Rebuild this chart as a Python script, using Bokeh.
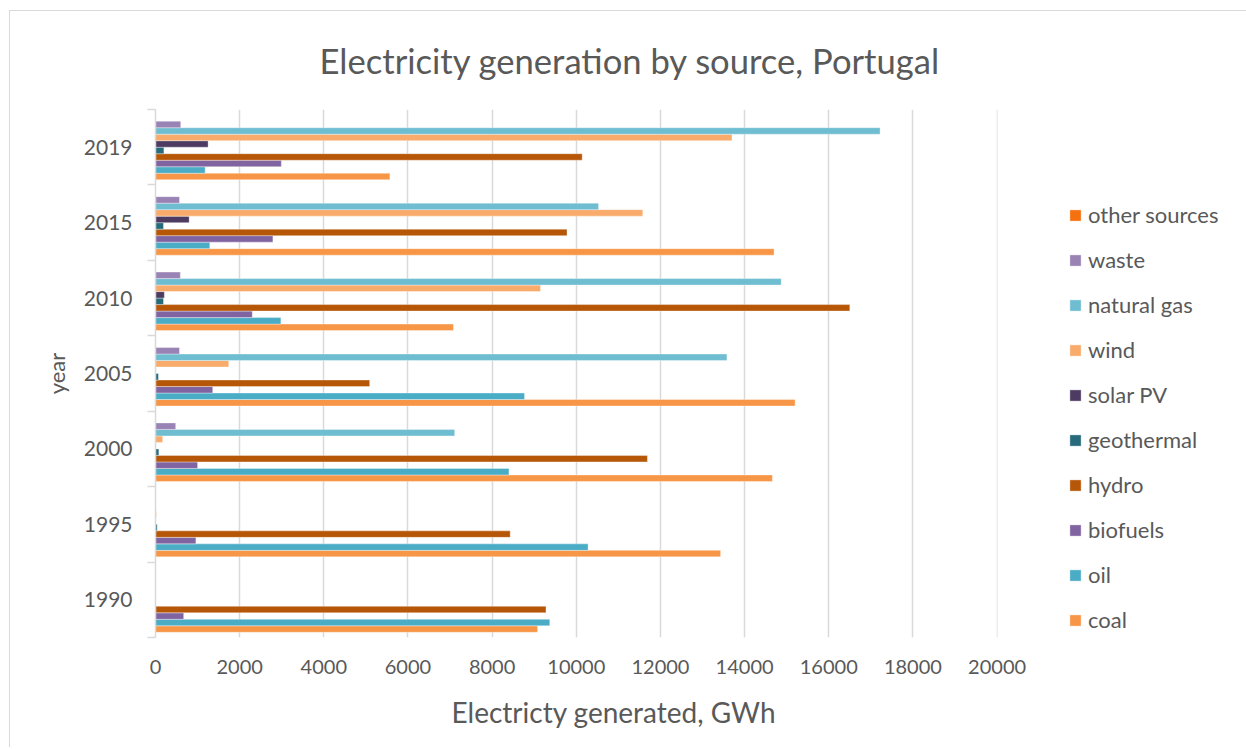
from bokeh.plotting import figure
from bokeh.models import (ColumnDataSource, Range1d, FixedTicker, Legend, LegendItem, Title)
from bokeh.transform import dodge
from bokeh.embed import file_html
from bokeh.resources import INLINE

# Electricity generated in Portugal by source, GWh
years = ["1990", "1995", "2000", "2005", "2010", "2015", "2019"]
coal = [9080, 13430, 14660, 15200, 7080, 14700, 5570]
oil = [9370, 10280, 8400, 8770, 2980, 1290, 1180]
biofuels = [670, 960, 1000, 1360, 2300, 2790, 2990]
hydro = [9280, 8430, 11690, 5090, 16500, 9780, 10140]
geothermal = [0, 40, 80, 70, 190, 190, 200]
solar_pv = [0, 0, 0, 3, 210, 800, 1250]
wind = [0, 20, 170, 1740, 9150, 11580, 13700]
natural_gas = [0, 0, 7110, 13580, 14870, 10530, 17220]
waste = [0, 0, 480, 570, 590, 570, 600]
other_sources = [0, 0, 0, 0, 0, 0, 0]

x_ticks = list(range(0, 20001, 2000))

# series from the bottom of each group upwards
series = [
    ("coal", coal, "#F79646"),
    ("oil", oil, "#4BACC6"),
    ("biofuels", biofuels, "#8064A2"),
    ("hydro", hydro, "#B65708"),
    ("geothermal", geothermal, "#276A7C"),
    ("solar PV", solar_pv, "#4D3B62"),
    ("wind", wind, "#F9AB6B"),
    ("natural gas", natural_gas, "#6FBDD1"),
    ("waste", waste, "#9983B5"),
    ("other sources", other_sources, "#F5700E"),
]

FONT = "Lato"
TEXT = "#595959"
GRID = "#D9D9D9"

data = {"idx": list(range(len(years)))}
for i, (name, vals, _) in enumerate(series):
    data[f"s{i}"] = vals
source = ColumnDataSource(data)

n = len(series)
slots = n + 1.6          # bar slots per category incl. gap
bar_h = 1.0 / slots

p = figure(frame_width=842, frame_height=528,
           min_border_left=145, min_border_top=98,
           min_border_right=247, min_border_bottom=110,
           x_range=Range1d(0, 20010), y_range=Range1d(-0.5, len(years) - 0.5),
           output_backend="svg", toolbar_location=None,
           background_fill_color="white", border_fill_color="white")
p.outline_line_color = None
p.margin = (10, 0, 0, 9)
p.styles = {"border-left": "1.5px solid #D9D9D9", "border-top": "1.5px solid #D9D9D9"}

renderers = []
for i, (name, vals, color) in enumerate(series):
    off = (i - (n - 1) / 2) / slots
    r = p.hbar(y=dodge("idx", off), left=0, right=f"s{i}", height=bar_h,
               source=source, fill_color=color, line_color="white",
               line_alpha=0.45, line_width=0.8)
    renderers.append((name, r))

# x axis
p.xaxis.ticker = FixedTicker(ticks=x_ticks)
p.xaxis.axis_line_color = None
p.xaxis.major_tick_line_color = None
p.xaxis.minor_tick_line_color = None
p.xaxis.major_label_text_font = FONT
p.xaxis.major_label_text_font_size = "20px"
p.xaxis.major_label_text_color = TEXT
p.xaxis.major_label_standoff = 16

# y axis: labels at category centres, ticks at category boundaries
p.yaxis.ticker = FixedTicker(ticks=list(range(len(years))),
                             minor_ticks=[k - 0.5 for k in range(len(years) + 1)])
p.yaxis.major_label_overrides = {i: y for i, y in enumerate(years)}
p.yaxis.axis_line_color = GRID
p.yaxis.axis_line_width = 1.5
p.yaxis.major_tick_line_color = None
p.yaxis.minor_tick_line_color = GRID
p.yaxis.minor_tick_line_width = 1.5
p.yaxis.minor_tick_in = 0
p.yaxis.minor_tick_out = 8
p.yaxis.major_label_text_font = FONT
p.yaxis.major_label_text_font_size = "21px"
p.yaxis.major_label_text_color = TEXT
p.yaxis.major_label_standoff = 15
p.yaxis.axis_label = "year"
p.yaxis.axis_label_text_font = FONT
p.yaxis.axis_label_text_font_size = "22px"
p.yaxis.axis_label_text_font_style = "normal"
p.yaxis.axis_label_text_color = TEXT
p.yaxis.axis_label_standoff = 11

p.xgrid.grid_line_color = GRID
p.xgrid.grid_line_width = 1.5
p.ygrid.grid_line_color = None

# chart title and horizontal axis title
p.add_layout(Title(text="Electricity generation by source, Portugal",
                   align="left", vertical_align="top", offset=164, standoff=54,
                   text_font=FONT, text_font_size="34.6px",
                   text_font_style="normal", text_color=TEXT), "above")
p.add_layout(Title(text="Electricty generated, GWh",
                   align="left", offset=296, standoff=32,
                   text_font=FONT, text_font_size="28px",
                   text_font_style="normal", text_color=TEXT), "below")

items = [LegendItem(label=name, renderers=[r]) for name, r in reversed(renderers)]
legend = Legend(items=items, location=(71, 4), orientation="vertical",
                border_line_color=None, background_fill_alpha=0,
                padding=0, margin=0, spacing=18,
                glyph_width=14, glyph_height=14, label_height=27,
                label_standoff=6, label_text_font=FONT,
                label_text_font_size="22px", label_text_color=TEXT)
p.add_layout(legend, "right")

open("out.html", "w").write(file_html(p, INLINE))
